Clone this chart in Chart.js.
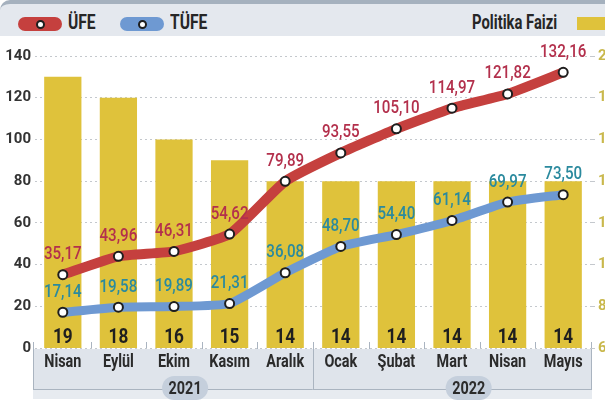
<!DOCTYPE html>
<html lang="tr">
<head>
<meta charset="utf-8">
<script src="https://cdn.jsdelivr.net/npm/chart.js@4.4.1/dist/chart.umd.min.js"></script>
<style>
    html, body { margin: 0; padding: 0; background: #fff; }
    body {
        width: 605px; height: 406px; overflow: hidden; position: relative;
        font-family: Roboto, 'Liberation Sans', sans-serif;
    }
    #wrap { position: absolute; left: 0; top: 0; width: 605px; height: 406px; }
    .head {
        position: absolute; left: 0; top: 0; width: 605px; height: 36px;
        background: #e4e8ee; border-top: 4px solid #a5b1be; box-sizing: border-box;
        border-top-left-radius: 10px; z-index: 2;
    }
    .pill {
        position: absolute; top: 13px; width: 44px; height: 14px; border-radius: 7px;
    }
    .pill::after {
        content: ''; position: absolute; left: 18px; top: 3px; width: 5px; height: 5px;
        border-radius: 50%; background: #fff; border: 2px solid #1e1e1e;
    }
    .lbl {
        position: absolute; top: 7px; font-size: 20px; font-weight: bold; color: #262626;
        line-height: 23px; transform: scaleX(0.78); transform-origin: 0 0; white-space: nowrap;
    }
    .swatch { position: absolute; left: 577px; top: 13px; width: 30px; height: 13px; background: #dfc23b; }
</style>
</head>
<body>
<div id="wrap"><canvas id="inflation-chart"></canvas></div>
<div class="head">
    <div class="pill" style="left:18px; background:#c5403e;"></div>
    <div class="lbl" style="left:68px;">ÜFE</div>
    <div class="pill" style="left:120px; background:#6e99d2;"></div>
    <div class="lbl" style="left:170px;">TÜFE</div>
    <div class="lbl" style="left:472px; transform: scaleX(0.74);">Politika Faizi</div>
    <div class="swatch"></div>
</div>
<script>
'use strict';

var months = ['Nisan', 'Eylül', 'Ekim', 'Kasım', 'Aralık', 'Ocak', 'Şubat', 'Mart', 'Nisan', 'Mayıs'];
var ufe = [35.17, 43.96, 46.31, 54.62, 79.89, 93.55, 105.10, 114.97, 121.82, 132.16];
var tufe = [17.14, 19.58, 19.89, 21.31, 36.08, 48.70, 54.40, 61.14, 69.97, 73.50];
var policyRate = [19, 18, 16, 15, 14, 14, 14, 14, 14, 14];
var years = ['2021', '2022'];
var yearFirstIndex = [0, 5];

// where the year pill sits, as a (fractional) category index
var yearPillAt = [2.2, 7.3];

const FONT = "Roboto, 'Liberation Sans', sans-serif";
Chart.defaults.font.family = FONT;

function fmt(v) {
    return v.toFixed(2).replace('.', ',');
}

// squeezed text, the original uses a condensed face
function squeezeText(ctx, text, x, y, font, color, sx) {
    ctx.save();
    ctx.font = font;
    ctx.fillStyle = color;
    ctx.textAlign = 'center';
    ctx.textBaseline = 'middle';
    ctx.translate(x, y);
    ctx.scale(sx, 1);
    ctx.fillText(text, 0, 0);
    ctx.restore();
}

// grey box under the x axis with months and year groups
const axisBox = {
    id: 'axisBox',
    beforeDraw(chart) {
        const ctx = chart.ctx;
        const area = chart.chartArea;
        const xs = chart.scales.x;
        const left = area.left - 2;
        const right = area.right + 1;
        const top = area.bottom + 1;
        ctx.save();
        ctx.fillStyle = '#fff';
        ctx.fillRect(0, 0, chart.width, chart.height);
        ctx.fillStyle = '#dfe4eb';
        ctx.fillRect(left, top, right - left, 41);
        ctx.fillStyle = '#e7ebf0';
        ctx.fillRect(left, top + 41, right - left, 9);

        ctx.strokeStyle = '#aab4c0';
        ctx.lineWidth = 1;
        ctx.beginPath();
        ctx.moveTo(left + 0.5, area.bottom - 6);
        ctx.lineTo(left + 0.5, area.bottom + 42);
        ctx.moveTo(right - 0.5, area.bottom - 6);
        ctx.lineTo(right - 0.5, area.bottom + 42);
        ctx.moveTo(left, area.bottom + 41.5);
        ctx.lineTo(right, area.bottom + 41.5);
        // divider between year groups
        for (let k = 1; k < yearFirstIndex.length; k++) {
            const i = yearFirstIndex[k];
            const bx = Math.round((xs.getPixelForValue(i - 1) + xs.getPixelForValue(i)) / 2) + 0.5;
            ctx.moveTo(bx, area.bottom - 6);
            ctx.lineTo(bx, area.bottom + 42);
        }
        // little ticks between months
        for (let i = 1; i < months.length; i++) {
            const bx = Math.round((xs.getPixelForValue(i - 1) + xs.getPixelForValue(i)) / 2) + 0.5;
            ctx.moveTo(bx, area.bottom - 6);
            ctx.lineTo(bx, area.bottom + 1);
        }
        ctx.stroke();
        ctx.restore();
    },
    afterDraw(chart) {
        const ctx = chart.ctx;
        const area = chart.chartArea;
        const xs = chart.scales.x;
        months.forEach((m, i) => {
            squeezeText(ctx, m, xs.getPixelForValue(i), area.bottom + 14,
                'bold 18px ' + FONT, '#2b2b2b', 0.8);
        });
        years.forEach((yr, k) => {
            const cx = xs.getPixelForValue(yearPillAt[k]);
            const cy = area.bottom + 40;
            ctx.save();
            ctx.fillStyle = '#c5cfdc';
            ctx.beginPath();
            ctx.roundRect(cx - 23, cy - 12, 46, 24, 12);
            ctx.fill();
            ctx.restore();
            squeezeText(ctx, yr, cx, cy + 1, 'bold 18px ' + FONT, '#2b2b2b', 0.8);
        });
    },
};

// value labels over points and at the foot of the bars
const valueLabels = {
    id: 'valueLabels',
    afterDatasetsDraw(chart) {
        const ctx = chart.ctx;
        const area = chart.chartArea;
        chart.data.datasets.forEach((ds, di) => {
            const meta = chart.getDatasetMeta(di);
            meta.data.forEach((el, i) => {
                const v = ds.data[i];
                if (ds.type === 'bar') {
                    squeezeText(ctx, String(v), el.x, area.bottom - 10,
                        'bold 20px ' + FONT, '#1f1f1f', 0.86);
                } else {
                    squeezeText(ctx, fmt(v), el.x, el.y - 20,
                        '500 18px ' + FONT, ds.labelColor, 0.84);
                }
            });
        });
    },
};

var $chart = document.getElementById('inflation-chart');

new Chart($chart, {
    data: {
        labels: months,
        datasets: [
            {
                type: 'line',
                label: 'ÜFE',
                data: ufe,
                yAxisID: 'y',
                borderColor: '#c5403e',
                borderWidth: 10,
                borderCapStyle: 'round',
                borderJoinStyle: 'round',
                tension: 0.15,
                pointRadius: 4.5,
                pointBackgroundColor: '#fff',
                pointBorderColor: '#1e1e1e',
                pointBorderWidth: 2,
                labelColor: '#b3304c',
                clip: false,
                order: 1,
            },
            {
                type: 'line',
                label: 'TÜFE',
                data: tufe,
                yAxisID: 'y',
                borderColor: '#6e99d2',
                borderWidth: 9,
                borderCapStyle: 'round',
                borderJoinStyle: 'round',
                tension: 0.15,
                pointRadius: 4.5,
                pointBackgroundColor: '#fff',
                pointBorderColor: '#1e1e1e',
                pointBorderWidth: 2,
                labelColor: '#2b8a9e',
                clip: false,
                order: 2,
            },
            {
                type: 'bar',
                label: 'Politika Faizi',
                data: policyRate,
                yAxisID: 'y1',
                backgroundColor: '#dfc23b',
                barPercentage: 0.67,
                categoryPercentage: 1,
                order: 3,
            },
        ],
    },
    options: {
        responsive: true,
        maintainAspectRatio: false,
        devicePixelRatio: 1,
        animation: false,
        layout: {
            padding: { top: 56, right: 0, bottom: 0, left: 0 },
        },
        scales: {
            x: {
                position: 'bottom',
                grid: { display: false },
                border: { display: false },
                ticks: { display: false },
                afterFit: (s) => { s.height = 58; },
            },
            y: {
                position: 'left',
                min: 0,
                max: 140,
                ticks: {
                    stepSize: 20,
                    color: '#333',
                    font: { size: 15, weight: 'bold' },
                    padding: 4,
                },
                grid: { color: '#c4c8cd', drawTicks: false },
                border: { display: false, dash: [2, 3] },
                afterFit: (s) => { s.width = 35; },
            },
            y1: {
                position: 'right',
                min: 6,
                max: 20,
                ticks: {
                    stepSize: 2,
                    color: '#c9b84c',
                    font: { size: 15, weight: 'bold' },
                    padding: 3,
                },
                grid: { drawOnChartArea: false, tickLength: 4, color: '#c4c8cd' },
                border: { display: false },
                afterFit: (s) => { s.width = 14; },
            },
        },
        plugins: {
            legend: { display: false },
            tooltip: { enabled: false },
        },
    },
    plugins: [axisBox, valueLabels],
});
</script>
</body>
</html>
